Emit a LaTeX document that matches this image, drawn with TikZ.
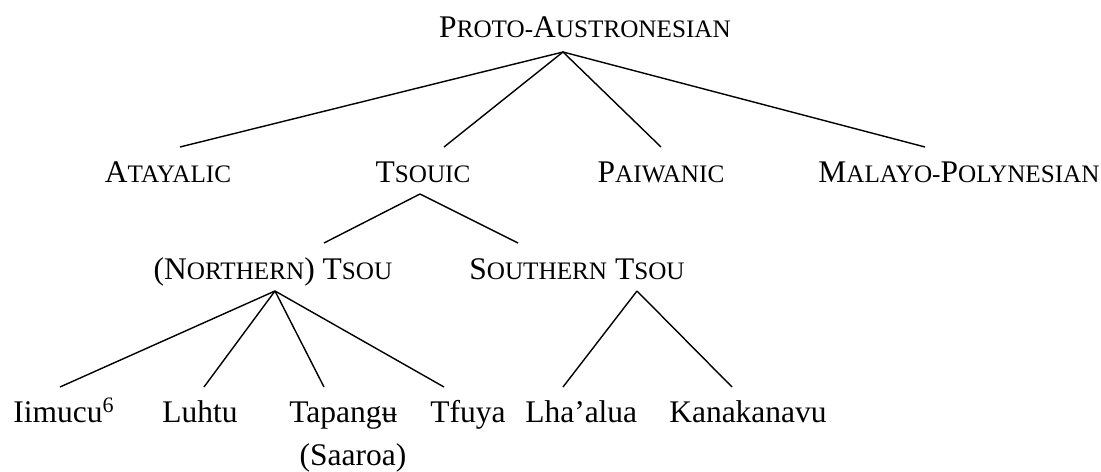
\documentclass[tikz,border=0pt]{standalone}
\usepackage{fontspec}
\setmainfont{Liberation Serif}
\usepackage{tikz}
\usetikzlibrary{positioning,calc}

\newcommand{\smcap}[1]{{\fontsize{17.9pt}{18pt}\selectfont #1}}

\begin{document}
\begin{tikzpicture}[
    x=0.025cm, y=-0.025cm,
    lang/.style={inner sep=0pt, anchor=base, font=\fontsize{22.4pt}{24pt}\selectfont},
    leaf/.style={lang, anchor=base west},
    branch/.style={line width=1pt}
]
    \useasboundingbox (0,0) rectangle (1101,472);

    % Top level
    \node [lang] (pan) at (585,38) {P\smcap{ROTO-}A\smcap{USTRONESIAN}};
    \coordinate (pan-b) at (563,52);

    \node [lang] (ata) at (168,183) {A\smcap{TAYALIC}};
    \node [lang] (tso) at (423,183) {T\smcap{SOUIC}};
    \node [lang] (pai) at (661,183) {P\smcap{AIWANIC}};
    \node [lang] (mpo) at (959,183) {M\smcap{ALAYO-}P\smcap{OLYNESIAN}};

    \foreach \n/\x in {ata/180, tso/444, pai/661, mpo/925} {
        \coordinate (\n-t) at (\x,147);
        \draw [branch] (pan-b) -- (\n-t);
    }

    % Tsouic
    \coordinate (tso-b) at (420,194);
    \node [lang] (nts) at (273,280) {(N\smcap{ORTHERN}) T\smcap{SOU}};
    \node [lang] (sts) at (577,280) {S\smcap{OUTHERN} T\smcap{SOU}};
    \coordinate (nts-t) at (324,243);
    \coordinate (sts-t) at (518,243);
    \draw [branch] (tso-b) -- (nts-t);
    \draw [branch] (tso-b) -- (sts-t);

    % Dialects
    \coordinate (nts-b) at (275,291);
    \coordinate (sts-b) at (637,291);
    \node [leaf] (iim) at (13,423) {Iimucu\textsuperscript{6}};
    \node [leaf] (luh) at (162,423) {Luhtu};
    \node [leaf] (tap) at (289,423) {Tapangʉ};
    \node [leaf] (tfu) at (430,423) {Tfuya};
    \node [leaf] (lha) at (525,423) {Lha’alua};
    \node [leaf] (kan) at (669,423) {Kanakanavu};
    \node [lang] (saa) at (353,465) {(Saaroa)};

    \foreach \n/\x in {iim/60, luh/204, tap/324, tfu/444} {
        \coordinate (\n-t) at (\x,387);
        \draw [branch] (nts-b) -- (\n-t);
    }
    \foreach \n/\x in {lha/563, kan/732} {
        \coordinate (\n-t) at (\x,387);
        \draw [branch] (sts-b) -- (\n-t);
    }
\end{tikzpicture}
\end{document}
